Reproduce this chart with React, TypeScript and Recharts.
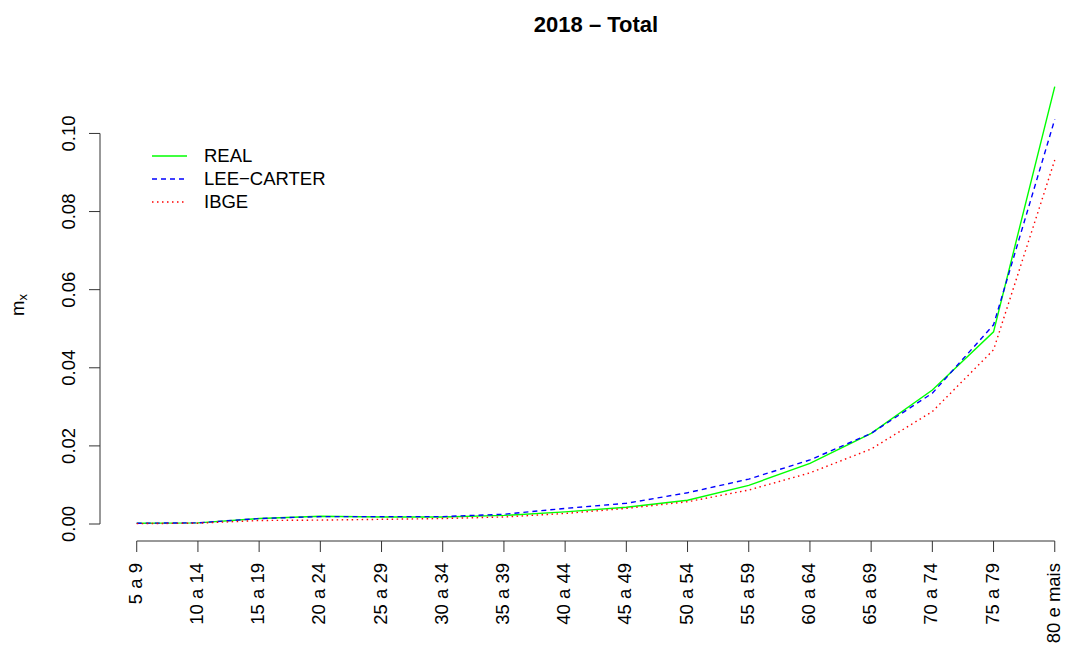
import React from 'react';
import { LineChart, Line, XAxis, YAxis, Legend, ReferenceLine } from 'recharts';

const ages = [
  '5 a 9', '10 a 14', '15 a 19', '20 a 24', '25 a 29', '30 a 34', '35 a 39', '40 a 44',
  '45 a 49', '50 a 54', '55 a 59', '60 a 64', '65 a 69', '70 a 74', '75 a 79', '80 e mais',
];
const real = [
  0.0002, 0.0003, 0.0014, 0.002, 0.0018, 0.0018, 0.0022, 0.0031,
  0.0043, 0.0061, 0.0099, 0.0155, 0.0232, 0.0343, 0.0492, 0.112,
];
const leeCarter = [
  0.0002, 0.0003, 0.0014, 0.0019, 0.0019, 0.0019, 0.0025, 0.004,
  0.0053, 0.008, 0.0115, 0.0164, 0.0232, 0.0335, 0.051, 0.1036,
];
const ibge = [
  0.0001, 0.0002, 0.0009, 0.001, 0.0012, 0.0014, 0.0018, 0.0027,
  0.004, 0.0057, 0.0087, 0.0131, 0.0192, 0.0288, 0.0446, 0.0932,
];
const yTicks = [0, 0.02, 0.04, 0.06, 0.08, 0.1];

const series = [
  { key: 'real', name: 'REAL', color: '#00ff00', dash: undefined },
  { key: 'lc', name: 'LEE\u2212CARTER', color: '#0000ff', dash: '5 4' },
  { key: 'ibge', name: 'IBGE', color: '#ff0000', dash: '1.5 3.5' },
];

const data = ages.map((age, i) => ({
  i,
  age,
  real: real[i],
  lc: leeCarter[i],
  ibge: ibge[i],
}));

const FONT = '"Liberation Sans", Arial, sans-serif';
const FS = 18.5;

// age-group labels, read bottom to top under each tick
const AgeTick = (props: any) => {
  const { x, payload } = props;
  const tx = x + 5;
  const ty = 563;
  return (
    <text
      x={tx}
      y={ty}
      transform={`rotate(-90, ${tx}, ${ty})`}
      textAnchor="end"
      fontSize={FS}
      fontFamily={FONT}
      fill="#000"
    >
      {ages[payload.value]}
    </text>
  );
};

const RateTick = (props: any) => {
  const { y, payload } = props;
  const tx = 75;
  return (
    <text
      x={tx}
      y={y}
      transform={`rotate(-90, ${tx}, ${y})`}
      textAnchor="middle"
      fontSize={FS}
      fontFamily={FONT}
      fill="#000"
    >
      {payload.value.toFixed(2)}
    </text>
  );
};

const RateLabel = () => (
  <text
    x={24}
    y={305}
    transform="rotate(-90, 24, 305)"
    textAnchor="middle"
    fontSize={FS}
    fontFamily={FONT}
    fill="#000"
  >
    m<tspan fontSize={13} dy={3}>x</tspan>
  </text>
);

const LegendBox = () => (
  <div style={{ fontFamily: FONT, fontSize: FS, color: '#000', textAlign: 'left' }}>
    {series.map((s) => (
      <div key={s.key} style={{ display: 'flex', alignItems: 'center', height: 22.7 }}>
        <svg width={52} height={10} style={{ display: 'block' }}>
          <line x1={0} y1={5} x2={35} y2={5} stroke={s.color} strokeWidth={1.3} strokeDasharray={s.dash} />
        </svg>
        <span>{s.name}</span>
      </div>
    ))}
  </div>
);

export default function App() {
  return (
    <div style={{ position: 'absolute', left: 0, top: 0, width: 1067, height: 646, background: '#fff' }}>
      <div
        style={{
          position: 'absolute',
          top: 12,
          left: 100,
          width: 992,
          textAlign: 'center',
          fontFamily: FONT,
          fontWeight: 'bold',
          fontSize: 22,
          color: '#000',
        }}
      >
        2018 {'\u2013'} Total
      </div>
      <LineChart
        width={1067}
        height={646}
        data={data}
        margin={{ top: 69, right: 0, bottom: 5, left: 40 }}
      >
        <XAxis
          dataKey="i"
          type="number"
          domain={[-0.6, 15.2]}
          allowDataOverflow
          ticks={ages.map((_, i) => i)}
          interval={0}
          height={100}
          axisLine={false}
          tickLine={{ stroke: '#333', strokeWidth: 1 }}
          tickSize={11}
          tick={<AgeTick />}
        />
        <YAxis
          type="number"
          domain={[-0.00435, 0.1165]}
          allowDataOverflow
          ticks={yTicks}
          width={60}
          axisLine={false}
          tickLine={{ stroke: '#333', strokeWidth: 1 }}
          tickSize={11}
          tick={<RateTick />}
          label={<RateLabel />}
        />
        {/* axis lines only span the tick range */}
        <ReferenceLine
          segment={[{ x: -0.6, y: 0 }, { x: -0.6, y: 0.1 }]}
          stroke="#333"
          strokeWidth={1}
          ifOverflow="visible"
        />
        <ReferenceLine
          segment={[{ x: 0, y: -0.00435 }, { x: 15, y: -0.00435 }]}
          stroke="#333"
          strokeWidth={1}
          ifOverflow="visible"
        />
        {series.map((s) => (
          <Line
            key={s.key}
            type="linear"
            dataKey={s.key}
            name={s.name}
            stroke={s.color}
            strokeWidth={1.4}
            strokeDasharray={s.dash}
            dot={false}
            activeDot={false}
            isAnimationActive={false}
          />
        ))}
        <Legend
          content={<LegendBox />}
          layout="horizontal"
          verticalAlign="middle"
          align="center"
          wrapperStyle={{ top: 145, left: 152, width: 300 }}
        />
      </LineChart>
    </div>
  );
}
